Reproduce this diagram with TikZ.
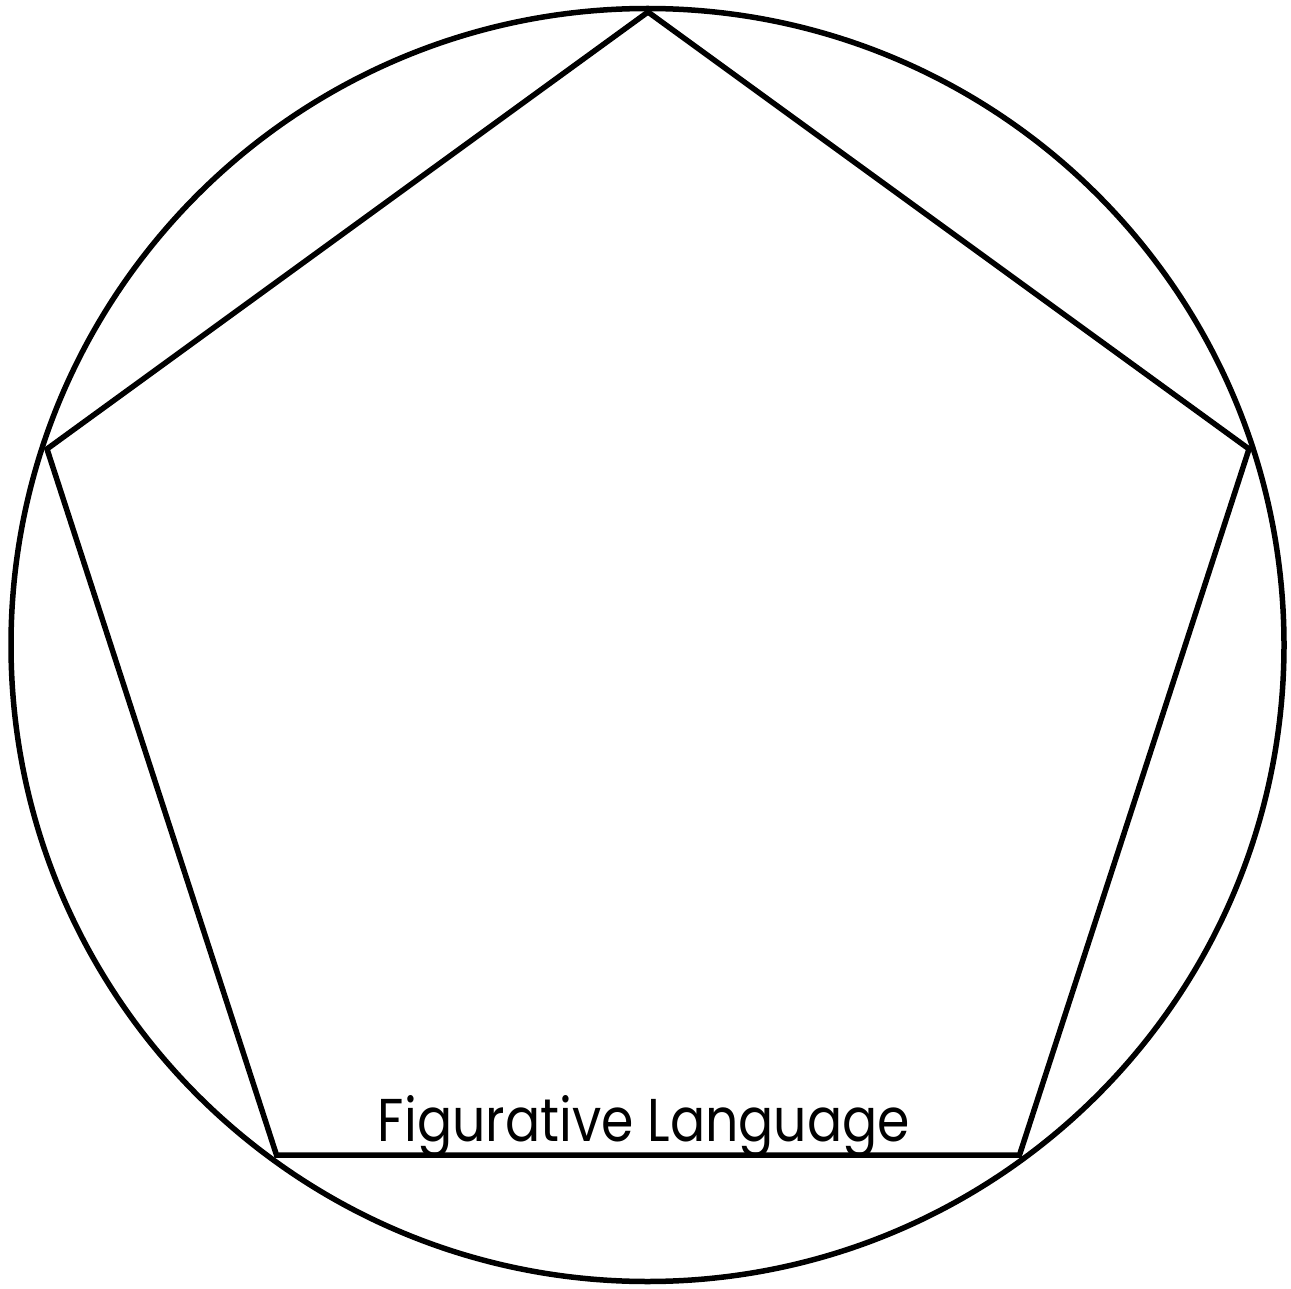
\documentclass[tikz,border=0pt]{standalone}
\usepackage{fontspec}
\setmainfont{Poppins}
\usepackage{graphicx}
\begin{document}
\begin{tikzpicture}[x=1pt,y=-1pt,
  outline/.style={draw=black,line width=5.5pt,line join=miter},
  label/.style={inner sep=0pt,anchor=base}]
\useasboundingbox (0,0) rectangle (1291,1289);
\node[circle,outline,minimum size=1273pt,inner sep=0pt] (circ) at (647.5,645) {};
\coordinate (p1) at (648,12);
\coordinate (p2) at (1249,449);
\coordinate (p3) at (1019.5,1155);
\coordinate (p4) at (276.5,1155);
\coordinate (p5) at (47,449);
\draw[outline] (p1) -- (p2) -- (p3) -- (p4) -- (p5) -- cycle;
\node[label] (title) at (644,1141) {\resizebox{532pt}{46pt}{Figurative Language}};
\end{tikzpicture}
\end{document}
